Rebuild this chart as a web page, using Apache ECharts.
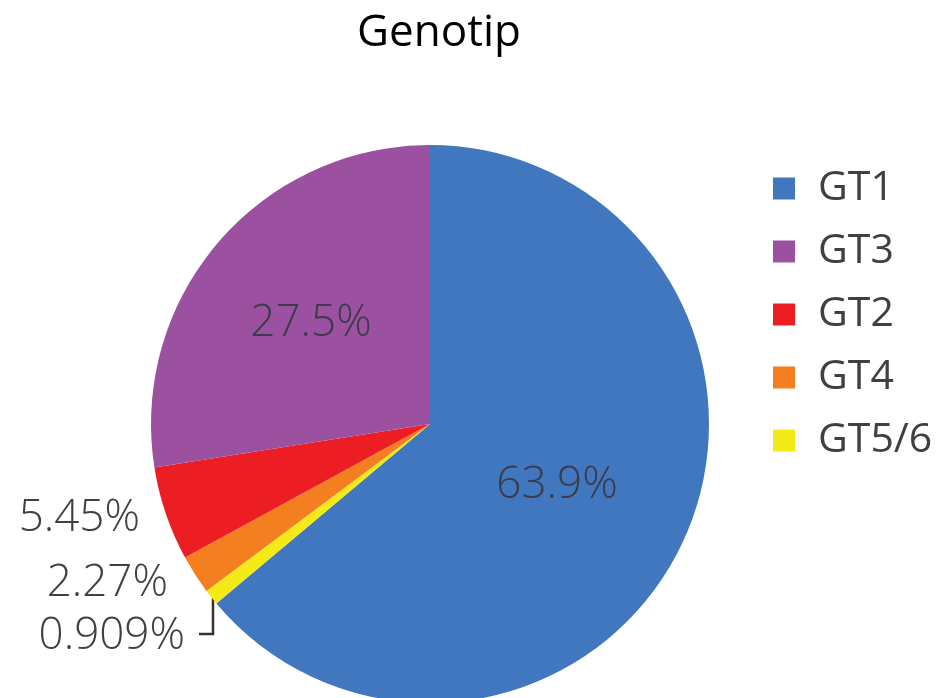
<!DOCTYPE html>
<html>
<head>
<meta charset="utf-8">
<script src="https://cdn.jsdelivr.net/npm/echarts@6/dist/echarts.min.js"></script>
<style>
  html, body { margin: 0; padding: 0; background: #fff; }
  #pie { width: 943px; height: 698px; }
</style>
</head>
<body>
<div id="pie"></div>
<script>
// genotype shares (legend order)
const categories = ['GT1', 'GT3', 'GT2', 'GT4', 'GT5/6'];
const shares = [63.9, 27.5, 5.45, 2.27, 0.909];
const shareLabels = ['63.9%', '27.5%', '5.45%', '2.27%', '0.909%'];
const colors = ['#4177be', '#9c50a0', '#ec1e24', '#f37f20', '#f3ea17'];
// slices go clockwise from 12 o'clock in this order
const drawOrder = [0, 4, 3, 2, 1];

// where each label sits (by category name)
const labelPos = {
  'GT1': { x: 557, y: 485, align: 'center' },
  'GT3': { x: 311, y: 323, align: 'center' },
  'GT2': { x: 140, y: 518, align: 'right' },
  'GT4': { x: 168, y: 583, align: 'right' },
  'GT5/6': { x: 185, y: 636, align: 'right' }
};

const pieData = drawOrder.map(i => ({
  name: categories[i],
  value: shares[i],
  itemStyle: { color: colors[i] },
  label: {
    formatter: shareLabels[i],
    color: i < 2 ? '#3b3b4c' : '#404040'
  },
  labelLine: { show: categories[i] === 'GT5/6' }
}));

const myChart = echarts.init(document.getElementById('pie'));
myChart.setOption({
  animation: false,
  title: {
    text: 'Genotip',
    left: 434,
    top: 6,
    textAlign: 'center',
    textStyle: {
      fontFamily: 'Open Sans',
      fontSize: 44,
      fontWeight: 'normal',
      color: '#000'
    }
  },
  legend: {
    orient: 'vertical',
    left: 768,
    top: 163,
    icon: 'rect',
    itemWidth: 22,
    itemHeight: 22,
    itemGap: 22,
    data: categories,
    textStyle: {
      fontFamily: 'Open Sans',
      fontSize: 41,
      lineHeight: 41,
      color: '#404040',
      padding: [0, 0, 0, 18]
    }
  },
  series: [{
    type: 'pie',
    center: [430, 424],
    radius: 279,
    startAngle: 90,
    clockwise: true,
    avoidLabelOverlap: false,
    itemStyle: { borderWidth: 0 },
    label: {
      position: 'outside',
      fontFamily: 'Open Sans',
      fontSize: 44,
      fontWeight: 300
    },
    labelLine: {
      lineStyle: { color: '#333', width: 2.5 }
    },
    labelLayout: function (params) {
      const name = pieData[params.dataIndex].name;
      const p = labelPos[name];
      const out = { x: p.x, y: p.y, align: p.align, verticalAlign: 'middle' };
      if (name === 'GT5/6') {
        out.labelLinePoints = [[213, 598], [213, 634], [199, 634]];
      }
      return out;
    },
    emphasis: { disabled: true },
    data: pieData
  }]
});
</script>
</body>
</html>
